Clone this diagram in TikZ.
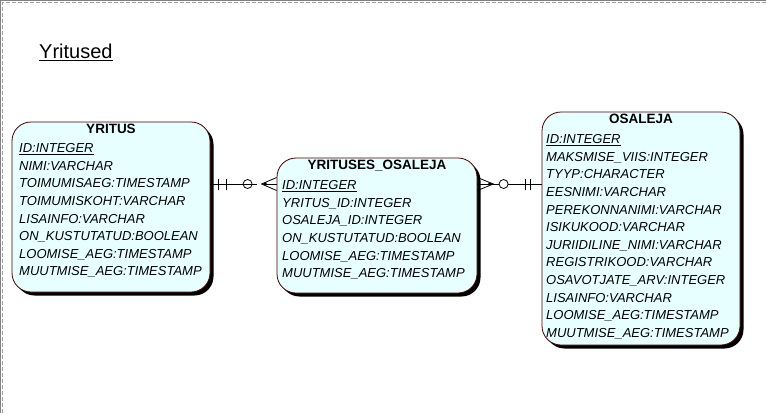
\documentclass[tikz,border=0pt]{standalone}
\usepackage{fontspec}
\setmainfont{Liberation Sans}
\usepackage{tikz}
\usetikzlibrary{shadows}
\definecolor{entfill}{HTML}{E8FFFF}
\definecolor{entline}{HTML}{400000}
\definecolor{framegray}{HTML}{A0A0A0}

\begin{document}
\begin{tikzpicture}[x=1pt, y=-1pt,
    entity/.style={draw=entline, fill=entfill, rounded corners=19pt, line width=0.8pt,
      drop shadow={shadow xshift=3.5pt, shadow yshift=-3.5pt, fill=black, opacity=1}},
    enttitle/.style={anchor=north, inner sep=0pt, font=\fontsize{13.5}{15}\selectfont\bfseries},
    attrs/.style={anchor=north west, inner sep=0pt, align=left,
      font=\fontsize{13}{17.6}\selectfont\itshape},
    rel/.style={line width=0.8pt}]
			\useasboundingbox (0,0) rectangle (766,413);
			% page frame
			\draw[gray, line width=1pt] (0.5,413) -- (0.5,0.5) -- (766,0.5);
			\draw[framegray, line width=1pt, dash pattern=on 4pt off 2pt] (2.5,413) -- (2.5,2.5) -- (766,2.5);
			\node[anchor=base west, inner sep=0pt, font=\fontsize{20}{24}\selectfont] (Titel) at (39,58.3) {\underline{Yritused}};
			% entities
			\node[entity, minimum width=198pt, minimum height=170pt] (Yritus) at (111,207) {};
			\node[entity, minimum width=200pt, minimum height=135pt] (YritusesOsaleja) at (377,225.5) {};
			\node[entity, minimum width=198pt, minimum height=233pt] (Osaleja) at (641,228.5) {};
			\node[enttitle] (YritusT) at (111,124) {YRITUS};
			\node[attrs] (YritusA) at (19,143.5) {\underline{ID:INTEGER}\\NIMI:VARCHAR\\TOIMUMISAEG:TIMESTAMP\\TOIMUMISKOHT:VARCHAR\\LISAINFO:VARCHAR\\ON\_KUSTUTATUD:BOOLEAN\\LOOMISE\_AEG:TIMESTAMP\\MUUTMISE\_AEG:TIMESTAMP};
			\node[enttitle] (YritusesOsalejaT) at (377,160) {YRITUSES\_OSALEJA};
			\node[attrs] (YritusesOsalejaA) at (282,180.5) {\underline{ID:INTEGER}\\YRITUS\_ID:INTEGER\\OSALEJA\_ID:INTEGER\\ON\_KUSTUTATUD:BOOLEAN\\LOOMISE\_AEG:TIMESTAMP\\MUUTMISE\_AEG:TIMESTAMP};
			\node[enttitle] (OsalejaT) at (641,114) {OSALEJA};
			\node[attrs] (OsalejaA) at (546,134.5) {\underline{ID:INTEGER}\\MAKSMISE\_VIIS:INTEGER\\TYYP:CHARACTER\\EESNIMI:VARCHAR\\PEREKONNANIMI:VARCHAR\\ISIKUKOOD:VARCHAR\\JURIIDILINE\_NIMI:VARCHAR\\REGISTRIKOOD:VARCHAR\\OSAVOTJATE\_ARV:INTEGER\\LISAINFO:VARCHAR\\LOOMISE\_AEG:TIMESTAMP\\MUUTMISE\_AEG:TIMESTAMP};
			% relationships
			\coordinate (Lvl) at (0,184);
			\coordinate (R1a) at (Yritus.east |- Lvl);
			\coordinate (R1b) at (YritusesOsaleja.west |- Lvl);
			\coordinate (R2a) at (YritusesOsaleja.east |- Lvl);
			\coordinate (R2b) at (Osaleja.west |- Lvl);
			\draw[rel] (R1a) -- ([xshift=-19.5pt]R1b) ([xshift=-10.5pt]R1b) -- (R1b);
			\draw[rel] ([xshift=8pt]R1a) ++(0,-5.5) -- ++(0,11);
			\draw[rel] ([xshift=16pt]R1a) ++(0,-5.5) -- ++(0,11);
			\draw[rel] ([xshift=-29pt]R1b) circle[radius=4.5pt];
			\draw[rel] (R1b) ++(0,-6.5) -- ([xshift=-15pt]R1b) -- ++(15,6.5);
			\fill ([xshift=-15pt]R1b) -- ++(5,-1.5) -- ++(0,3) -- cycle;
			\draw[rel] (R2b) -- ([xshift=-33.5pt]R2b) ([xshift=-42.5pt]R2b) -- (R2a);
			\draw[rel] ([xshift=-11pt]R2b) ++(0,-5.5) -- ++(0,11);
			\draw[rel] ([xshift=-16pt]R2b) ++(0,-5.5) -- ++(0,11);
			\draw[rel] ([xshift=-38pt]R2b) circle[radius=4.5pt];
			\draw[rel] (R2a) ++(0,-6.5) -- ([xshift=16pt]R2a) -- ++(-16,6.5);
			\fill ([xshift=16pt]R2a) -- ++(-5,-1.5) -- ++(0,3) -- cycle;
		\end{tikzpicture}
\end{document}
